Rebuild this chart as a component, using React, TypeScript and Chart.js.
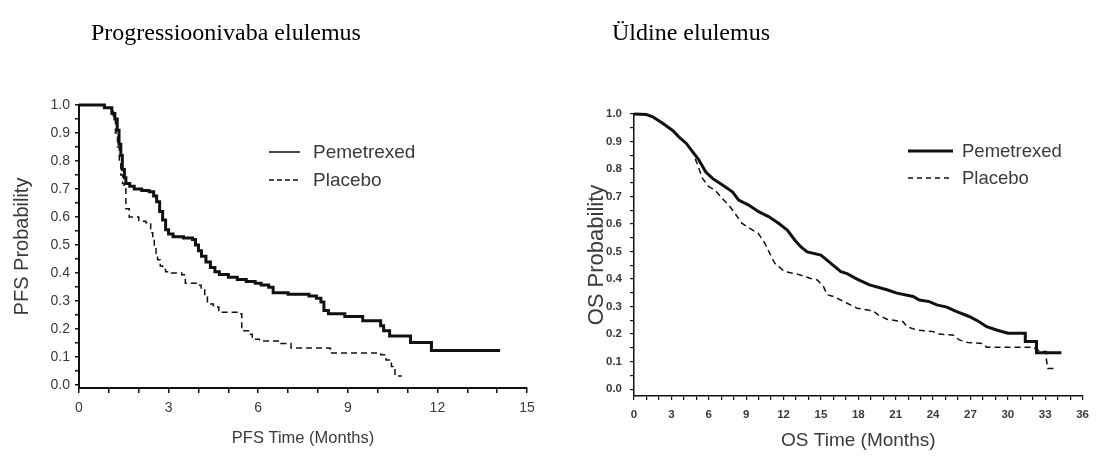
import { useEffect, useRef } from "react";
import { Chart, registerables } from "chart.js";

Chart.register(...registerables);

// ---------- Data ----------
const pfsPemetrexedMonths = [0, 0.85, 1.1, 1.2, 1.28, 1.34, 1.4, 1.45, 1.52, 1.57, 1.7, 1.85, 2.1, 2.35, 2.5, 2.6, 2.7, 2.8, 2.9, 3.0, 3.15, 3.5, 3.8, 3.9, 4.0, 4.1, 4.25, 4.4, 4.55, 4.7, 5.0, 5.3, 5.6, 5.9, 6.1, 6.35, 6.5, 7.0, 7.7, 7.95, 8.1, 8.2, 8.35, 8.9, 9.5, 10.1, 10.2, 10.4, 11.1, 11.8, 14.1];
const pfsPemetrexedProb = [1.0, 0.99, 0.97, 0.95, 0.91, 0.86, 0.82, 0.77, 0.74, 0.72, 0.71, 0.7, 0.695, 0.69, 0.675, 0.655, 0.62, 0.59, 0.555, 0.54, 0.53, 0.525, 0.52, 0.5, 0.48, 0.46, 0.44, 0.42, 0.405, 0.395, 0.385, 0.377, 0.37, 0.364, 0.358, 0.35, 0.33, 0.325, 0.318, 0.31, 0.297, 0.267, 0.255, 0.245, 0.23, 0.212, 0.194, 0.176, 0.152, 0.124, 0.124];

const pfsPlaceboMonths = [0, 0.9, 1.15, 1.22, 1.29, 1.35, 1.4, 1.46, 1.51, 1.57, 1.68, 2.0, 2.24, 2.4, 2.47, 2.52, 2.58, 2.63, 2.72, 2.8, 2.9, 3.09, 3.44, 3.56, 3.92, 4.09, 4.21, 4.3, 4.5, 4.68, 5.39, 5.45, 5.68, 5.8, 6.04, 6.75, 7.1, 8.4, 8.46, 10.1, 10.28, 10.46, 10.58, 10.81];
const pfsPlaceboProb = [1.0, 0.99, 0.95, 0.9, 0.85, 0.79, 0.75, 0.72, 0.7, 0.63, 0.6, 0.585, 0.58, 0.544, 0.52, 0.496, 0.47, 0.448, 0.425, 0.413, 0.405, 0.4, 0.394, 0.364, 0.357, 0.34, 0.315, 0.29, 0.279, 0.26, 0.255, 0.194, 0.182, 0.164, 0.158, 0.149, 0.133, 0.13, 0.115, 0.109, 0.09, 0.067, 0.033, 0.033];

// OS curves: many small steps, traced as a path (repeated months = vertical drops)
const osPemetrexedMonths = [0, 1.0, 1.5, 2.3, 3.1, 3.6, 4.2, 4.7, 5.2, 5.75, 6.3, 7.1, 7.9, 8.4, 9.2, 10.0, 10.8, 11.6, 12.3, 12.9, 13.4, 13.9, 15.0, 15.8, 16.6, 17.1, 17.9, 18.9, 20.3, 21.1, 22.4, 22.9, 23.7, 24.3, 25.1, 25.9, 26.9, 27.7, 28.3, 29.1, 30.0, 31.4, 31.4, 32.3, 32.3, 34.3];
const osPemetrexedProb = [1.0, 0.998, 0.99, 0.966, 0.94, 0.917, 0.893, 0.863, 0.833, 0.79, 0.766, 0.742, 0.717, 0.687, 0.669, 0.645, 0.627, 0.603, 0.578, 0.542, 0.517, 0.499, 0.487, 0.457, 0.427, 0.42, 0.4, 0.379, 0.361, 0.349, 0.337, 0.324, 0.318, 0.306, 0.298, 0.282, 0.264, 0.245, 0.227, 0.215, 0.203, 0.203, 0.173, 0.173, 0.132, 0.132];

const osPlaceboMonths = [0, 1.0, 1.5, 2.3, 3.1, 3.6, 4.2, 4.7, 5.1, 5.5, 6.0, 6.5, 7.07, 7.6, 8.1, 8.65, 9.3, 9.97, 10.5, 10.9, 11.3, 12.1, 13.1, 14.2, 14.7, 15.2, 15.5, 16.0, 17.1, 17.9, 19.2, 19.6, 20.3, 21.6, 21.9, 22.7, 24.0, 24.5, 25.6, 26.1, 26.8, 28.0, 28.3, 32.1, 32.3, 33.1, 33.1, 33.2, 33.7];
const osPlaceboProb = [1.0, 0.998, 0.99, 0.966, 0.94, 0.917, 0.893, 0.863, 0.815, 0.766, 0.736, 0.724, 0.693, 0.669, 0.639, 0.603, 0.584, 0.566, 0.53, 0.493, 0.457, 0.427, 0.418, 0.402, 0.397, 0.373, 0.343, 0.337, 0.312, 0.294, 0.284, 0.27, 0.254, 0.245, 0.227, 0.215, 0.209, 0.2, 0.197, 0.179, 0.169, 0.166, 0.152, 0.152, 0.142, 0.136, 0.106, 0.075, 0.075];

const seriesNames = ["Pemetrexed", "Placebo"];
const pfsXTickLabels = [0, 3, 6, 9, 12, 15];
const osXTickLabels = [0, 3, 6, 9, 12, 15, 18, 21, 24, 27, 30, 33, 36];
const probTickLabels = ["0.0", "0.1", "0.2", "0.3", "0.4", "0.5", "0.6", "0.7", "0.8", "0.9", "1.0"];

const titles = ["Progressioonivaba elulemus", "Üldine elulemus"];
const pfsAxisTitles = ["PFS Time (Months)", "PFS Probability"];
const osAxisTitles = ["OS Time (Months)", "OS Probability"];

// ---------- Styling ----------
const SANS = "'Liberation Sans', Arial, sans-serif";
const INK = "#111";
const TEXT = "#3a3a3a";

const toPoints = (xs: number[], ys: number[]) => xs.map((x, i) => ({ x, y: ys[i] }));

const probLabel = (v: number) => {
  const r = Math.round(v * 10) / 10 + 0;
  if (Math.abs(v - r) > 1e-6) return "";
  const s = r.toFixed(1);
  return probTickLabels.includes(s) ? s : "";
};

type LegendRow = { y: number; width: number; dash: number[] };
function makeLegendPlugin(lineX0: number, lineX1: number, textX: number, rows: LegendRow[], fontSize: number) {
  return {
    id: "kmLegend",
    afterDraw(chart: any) {
      const ctx = chart.ctx as CanvasRenderingContext2D;
      ctx.save();
      chart.data.datasets.forEach((ds: any, i: number) => {
        const r = rows[i];
        ctx.strokeStyle = INK;
        ctx.lineWidth = r.width;
        ctx.setLineDash(r.dash);
        ctx.beginPath();
        ctx.moveTo(lineX0, r.y);
        ctx.lineTo(lineX1, r.y);
        ctx.stroke();
        ctx.setLineDash([]);
        ctx.fillStyle = TEXT;
        ctx.font = `${fontSize}px ${SANS}`;
        ctx.textBaseline = "middle";
        ctx.textAlign = "left";
        ctx.fillText(ds.label, textX, r.y + 1);
      });
      ctx.restore();
    },
  };
}

function pfsConfig(): any {
  return {
    type: "line",
    data: {
      datasets: [
        { label: seriesNames[0], data: toPoints(pfsPemetrexedMonths, pfsPemetrexedProb), borderColor: INK, borderWidth: 3, pointRadius: 0, stepped: "before", fill: false, clip: false },
        { label: seriesNames[1], data: toPoints(pfsPlaceboMonths, pfsPlaceboProb), borderColor: INK, borderWidth: 1.5, borderDash: [6, 4], pointRadius: 0, stepped: "before", fill: false, clip: false },
      ],
    },
    options: {
      responsive: false,
      animation: false,
      layout: { padding: { top: 105, right: 33, bottom: 0, left: 0 } },
      plugins: { legend: { display: false }, tooltip: { enabled: false } },
      scales: {
        x: {
          type: "linear",
          min: 0,
          max: 15,
          afterFit: (s: any) => { s.height = 68; },
          ticks: {
            stepSize: 1,
            autoSkip: false,
            maxRotation: 0,
            padding: 7,
            color: TEXT,
            font: { family: SANS, size: 14 },
            callback: (v: number) => (pfsXTickLabels.includes(v) ? String(v) : ""),
          },
          grid: { display: true, drawOnChartArea: false, drawTicks: true, tickLength: 5, color: INK, lineWidth: 1.5 },
          border: { display: true, color: INK, width: 2 },
          title: { display: true, text: pfsAxisTitles[0], color: TEXT, font: { family: SANS, size: 16.5 }, padding: { top: 0, bottom: 8 } },
        },
        y: {
          type: "linear",
          min: -0.01,
          max: 1.0,
          afterFit: (s: any) => { s.width = 79; },
          ticks: {
            stepSize: 0.05,
            includeBounds: false,
            autoSkip: false,
            padding: 5,
            color: TEXT,
            font: { family: SANS, size: 14 },
            callback: (v: number) => probLabel(v),
          },
          grid: { display: true, drawOnChartArea: false, drawTicks: true, tickLength: 4, color: INK, lineWidth: 1.5 },
          border: { display: true, color: INK, width: 2 },
          title: { display: true, text: pfsAxisTitles[1], color: TEXT, font: { family: SANS, size: 20 }, padding: { top: 10, bottom: 0 } },
        },
      },
    },
    plugins: [
      makeLegendPlugin(269, 300, 313, [
        { y: 152, width: 1.5, dash: [] },
        { y: 180, width: 1.5, dash: [5, 3] },
      ], 19),
    ],
  };
}

function osConfig(): any {
  return {
    type: "line",
    data: {
      datasets: [
        { label: seriesNames[0], data: toPoints(osPemetrexedMonths, osPemetrexedProb), borderColor: INK, borderWidth: 3, pointRadius: 0, fill: false, clip: false },
        { label: seriesNames[1], data: toPoints(osPlaceboMonths, osPlaceboProb), borderColor: INK, borderWidth: 1.5, borderDash: [6, 4], pointRadius: 0, fill: false, clip: false },
      ],
    },
    options: {
      responsive: false,
      animation: false,
      layout: { padding: { top: 114, right: 8, bottom: 0, left: 0 } },
      plugins: { legend: { display: false }, tooltip: { enabled: false } },
      scales: {
        x: {
          type: "linear",
          min: 0,
          max: 36,
          afterFit: (s: any) => { s.height = 60; },
          ticks: {
            stepSize: 1,
            autoSkip: false,
            maxRotation: 0,
            padding: 8,
            color: TEXT,
            font: { family: SANS, size: 11.5, weight: "bold" },
            callback: (v: number) => (osXTickLabels.includes(v) ? String(v) : ""),
          },
          grid: { display: true, drawOnChartArea: false, drawTicks: true, tickLength: 4, color: INK, lineWidth: 1.2 },
          border: { display: true, color: INK, width: 1.5 },
          title: { display: true, text: osAxisTitles[0], color: TEXT, font: { family: SANS, size: 19 }, padding: { top: 0, bottom: 4 } },
        },
        y: {
          type: "linear",
          min: -0.025,
          max: 1.0,
          afterFit: (s: any) => { s.width = 74; },
          ticks: {
            stepSize: 0.05,
            includeBounds: false,
            autoSkip: false,
            padding: 8,
            color: TEXT,
            font: { family: SANS, size: 11.5, weight: "bold" },
            callback: (v: number) => probLabel(v),
          },
          grid: { display: true, drawOnChartArea: false, drawTicks: true, tickLength: 4, color: INK, lineWidth: 1.2 },
          border: { display: true, color: INK, width: 1.5 },
          title: { display: true, text: osAxisTitles[1], color: TEXT, font: { family: SANS, size: 22 }, padding: { top: 24, bottom: 0 } },
        },
      },
    },
    plugins: [
      makeLegendPlugin(908 - 560, 953 - 560, 962 - 560, [
        { y: 151, width: 3, dash: [] },
        { y: 178, width: 1.5, dash: [5, 4] },
      ], 18.5),
    ],
  };
}

function KMChart({ makeConfig, left, width }: { makeConfig: () => any; left: number; width: number }) {
  const ref = useRef<HTMLCanvasElement>(null);
  useEffect(() => {
    const chart = new Chart(ref.current as HTMLCanvasElement, makeConfig());
    return () => chart.destroy();
  }, []);
  return (
    <canvas
      ref={ref}
      width={width}
      height={456}
      style={{ position: "absolute", left, top: 0, width, height: 456 }}
    />
  );
}

const titleStyle: any = {
  position: "absolute",
  top: 18,
  fontFamily: "'Liberation Serif', 'Times New Roman', serif",
  fontSize: 24,
  lineHeight: "28px",
  color: "#000",
  whiteSpace: "nowrap",
};

export default function App() {
  return (
    <div style={{ position: "fixed", left: 0, top: 0, width: 1097, height: 456, background: "#fff", overflow: "hidden" }}>
      <KMChart makeConfig={pfsConfig} left={0} width={560} />
      <KMChart makeConfig={osConfig} left={560} width={537} />
      <div style={{ ...titleStyle, left: 91 }}>{titles[0]}</div>
      <div style={{ ...titleStyle, left: 612 }}>{titles[1]}</div>
    </div>
  );
}
